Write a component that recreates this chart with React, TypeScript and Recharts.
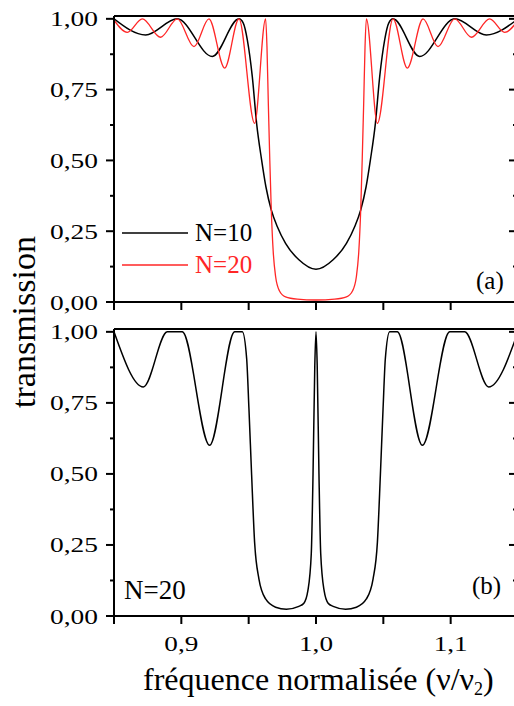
import React from "react";
import { LineChart, Line, XAxis, YAxis, ReferenceLine } from "recharts";

// panel (a), N=10 : normalised frequency / transmission
const freqN10 = [
  0.85, 0.8735, 0.897, 0.923, 0.9428, 0.946, 0.949, 0.9527, 0.9559, 0.9596, 0.9628, 0.9668, 0.9713, 0.9774, 0.9873,
  1.0, 1.0127, 1.0226, 1.0287, 1.0332, 1.0372, 1.0404, 1.0441, 1.0473, 1.051, 1.054, 1.0572, 1.077, 1.103, 1.1265, 1.15,
];
const transN10 = [
  1.0, 0.943, 1.0, 0.867, 1.0, 0.985, 0.926, 0.796, 0.631, 0.502, 0.407, 0.325, 0.266, 0.207, 0.149,
  0.1155, 0.149, 0.207, 0.266, 0.325, 0.407, 0.502, 0.631, 0.796, 0.926, 0.985, 1.0, 0.867, 1.0, 0.943, 1.0,
];

// panel (a), N=20
const freqN20 = [
  0.85, 0.8599, 0.871, 0.8846, 0.897, 0.9094, 0.9205, 0.9322, 0.9428, 0.9544, 0.9626, 0.9636, 0.9646, 0.9657, 0.9668,
  0.9682, 0.97, 0.9728, 0.9774, 0.9861, 1.0, 1.0139, 1.0226, 1.0272, 1.03, 1.0318, 1.0332, 1.0343, 1.0354, 1.0364,
  1.0374, 1.0456, 1.0572, 1.0678, 1.0795, 1.0906, 1.103, 1.1154, 1.129, 1.1401, 1.15,
];
const transN20 = [
  0.995, 0.952, 1.0, 0.935, 1.0, 0.902, 1.0, 0.826, 1.0, 0.631, 1.0, 0.9, 0.7, 0.5, 0.325,
  0.18, 0.09, 0.04, 0.018, 0.01, 0.007, 0.01, 0.018, 0.04, 0.09, 0.18, 0.325, 0.5, 0.7, 0.9,
  1.0, 0.631, 1.0, 0.826, 1.0, 0.902, 1.0, 0.935, 1.0, 0.952, 0.995,
];

// panel (b), N=20 with defect
const freqDefect = [
  0.85, 0.8718, 0.8896, 0.9007, 0.921, 0.9396, 0.9453, 0.9485, 0.9502, 0.9522, 0.9544, 0.9576, 0.9626, 0.97, 0.978,
  0.9873, 0.991, 0.994, 0.9965, 0.9978, 0.9991, 1.0, 1.0009, 1.0022, 1.0035, 1.006, 1.009, 1.0127, 1.022, 1.03,
  1.0374, 1.0424, 1.0456, 1.0478, 1.0498, 1.0515, 1.0547, 1.0604, 1.079, 1.0993, 1.1104, 1.1282, 1.15,
];
const transDefect = [
  1.0, 0.806, 1.0, 1.0, 0.601, 1.0, 1.0, 0.906, 0.73, 0.496, 0.26, 0.131, 0.06, 0.031, 0.024,
  0.034, 0.045, 0.09, 0.22, 0.5, 0.88, 1.0, 0.88, 0.5, 0.22, 0.09, 0.045, 0.034, 0.024, 0.031,
  0.06, 0.131, 0.26, 0.496, 0.73, 0.906, 1.0, 1.0, 0.601, 1.0, 1.0, 0.806, 1.0,
];

const yTicks = [0, 0.125, 0.25, 0.375, 0.5, 0.625, 0.75, 0.875, 1];
const xTicks = [0.85, 0.9, 0.95, 1.0, 1.05, 1.1, 1.15];
const xLabels = [0.9, 1.0, 1.1];

const FONT = "'Liberation Serif', 'DejaVu Serif', serif";
const RED = "#ff2626";
const X_MIN = 0.85;
const X_MAX = 1.15;
const Y_MAX = 1.01;
const WIDTH = 520;
const PLOT_LEFT = 114;
const PLOT_RIGHT = 518;
const AXIS = { stroke: "#000", strokeWidth: 2 };
const serif = { fontFamily: FONT };

const toPoints = (xs: number[], ys: number[]) => xs.map((x, i) => ({ x, y: ys[i] }));
const n10 = toPoints(freqN10, transN10);
const n20 = toPoints(freqN20, transN20);
const defect = toPoints(freqDefect, transDefect);

function YTick(props: any) {
  const { y, payload } = props;
  const v = payload.value as number;
  const major = Math.abs(v * 4 - Math.round(v * 4)) < 1e-6;
  return (
    <g>
      <line x1={PLOT_LEFT - (major ? 8 : 4)} x2={PLOT_LEFT} y1={y} y2={y} {...AXIS} />
      <line x1={PLOT_RIGHT - (major ? 9 : 5)} x2={PLOT_RIGHT} y1={y} y2={y} {...AXIS} />
      {major && (
        <text
          x={PLOT_LEFT - 16}
          y={y + 7.5}
          textAnchor="end"
          style={serif}
          fontSize={22}
          textLength={48}
          lengthAdjust="spacingAndGlyphs"
          fill="#000"
        >
          {v.toFixed(2).replace(".", ",")}
        </text>
      )}
    </g>
  );
}

function XTickLabel(props: any) {
  const { x, payload } = props;
  const v = payload.value as number;
  if (!xLabels.some((l) => Math.abs(l - v) < 1e-6)) return <g />;
  return (
    <text
      x={x}
      y={335}
      textAnchor="middle"
      style={serif}
      fontSize={22}
      textLength={34}
      lengthAdjust="spacingAndGlyphs"
      fill="#000"
    >
      {v.toFixed(1).replace(".", ",")}
    </text>
  );
}

const noTick = () => <g />;

export default function App() {
  return (
    <div style={{ position: "absolute", left: 0, top: 0, width: 514, height: 706, overflow: "hidden", background: "#fff" }}>
      <div style={{ position: "absolute", left: 0, top: 0 }}>
        <LineChart width={WIDTH} height={316} margin={{ top: 16, right: 2, left: 0, bottom: 0 }}>
          <XAxis
            dataKey="x"
            type="number"
            domain={[X_MIN, X_MAX]}
            ticks={xTicks}
            interval={0}
            allowDataOverflow
            height={14}
            tickSize={8}
            tickLine={AXIS}
            axisLine={AXIS}
            tick={noTick}
          />
          <YAxis
            type="number"
            domain={[0, Y_MAX]}
            ticks={yTicks}
            interval={0}
            allowDataOverflow
            width={PLOT_LEFT}
            tickLine={false}
            axisLine={AXIS}
            tick={YTick}
          />
          <ReferenceLine y={Y_MAX} stroke="#000" strokeWidth={2} ifOverflow="visible" />
          <ReferenceLine x={X_MAX} stroke="#000" strokeWidth={2} ifOverflow="visible" />
          <Line data={n10} dataKey="y" type="monotone" stroke="#000" strokeWidth={1.5} dot={false} activeDot={false} isAnimationActive={false} />
          <Line data={n20} dataKey="y" type="monotone" stroke={RED} strokeWidth={1.3} dot={false} activeDot={false} isAnimationActive={false} />
        </LineChart>
      </div>
      <div style={{ position: "absolute", left: 0, top: 316 }}>
        <LineChart width={WIDTH} height={390} margin={{ top: 13, right: 2, left: 0, bottom: 0 }}>
          <XAxis
            dataKey="x"
            type="number"
            domain={[X_MIN, X_MAX]}
            ticks={xTicks}
            interval={0}
            allowDataOverflow
            height={90}
            tickSize={8}
            tickLine={AXIS}
            axisLine={AXIS}
            tick={XTickLabel}
          />
          <YAxis
            type="number"
            domain={[0, Y_MAX]}
            ticks={yTicks}
            interval={0}
            allowDataOverflow
            width={PLOT_LEFT}
            tickLine={false}
            axisLine={AXIS}
            tick={YTick}
          />
          <ReferenceLine y={Y_MAX} stroke="#000" strokeWidth={2} ifOverflow="visible" />
          <ReferenceLine x={X_MAX} stroke="#000" strokeWidth={2} ifOverflow="visible" />
          <Line data={defect} dataKey="y" type="monotone" stroke="#000" strokeWidth={1.5} dot={false} activeDot={false} isAnimationActive={false} />
        </LineChart>
      </div>
      <svg width={514} height={706} style={{ position: "absolute", left: 0, top: 0, pointerEvents: "none", fontFamily: FONT }}>
        <line x1={122} x2={188} y1={233} y2={233} stroke="#000" strokeWidth={1.5} />
        <text x={195} y={241} fontSize={25} fill="#000">N=10</text>
        <line x1={122} x2={188} y1={265} y2={265} stroke={RED} strokeWidth={1.3} />
        <text x={195} y={273} fontSize={25} fill={RED}>N=20</text>
        <text x={476} y={289} fontSize={25} fill="#000">(a)</text>
        <text x={472} y={594} fontSize={25} fill="#000">(b)</text>
        <text x={124} y={599} fontSize={27} fill="#000">N=20</text>
        <text transform="translate(35,322) rotate(-90)" textAnchor="middle" fontSize={34} fill="#000">transmission</text>
        <text x={143} y={690} fontSize={32} fill="#000">
          fréquence normalisée (ν/ν<tspan dy={5} fontSize={18}>2</tspan><tspan dy={-5}>)</tspan>
        </text>
      </svg>
    </div>
  );
}
